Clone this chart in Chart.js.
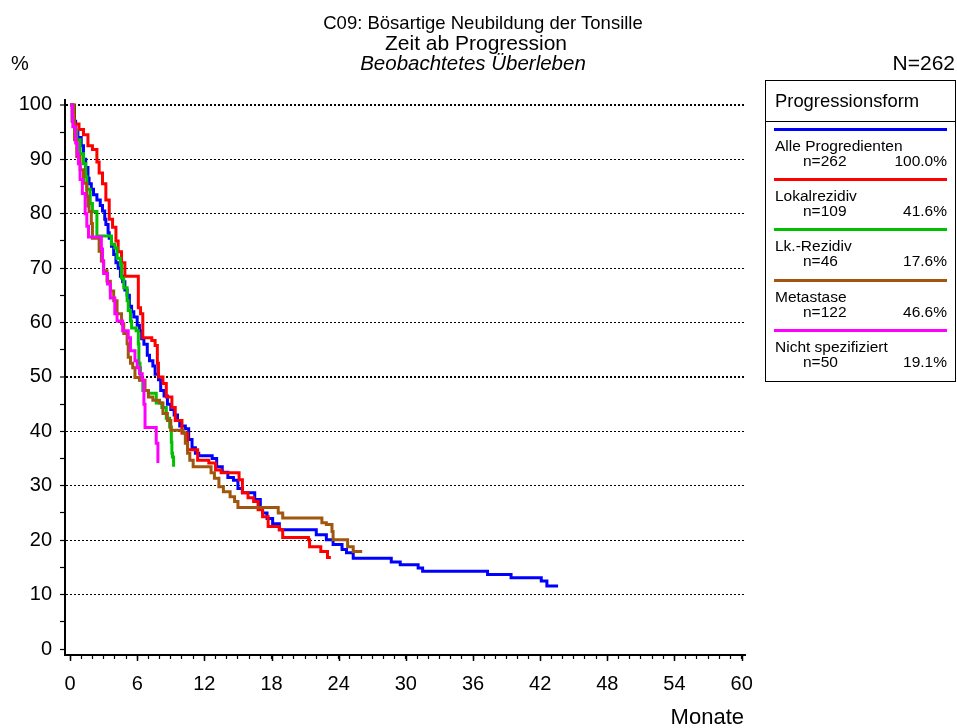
<!DOCTYPE html>
<html>
<head>
<meta charset="utf-8">
<script src="https://cdn.jsdelivr.net/npm/chart.js@4"></script>
<style>
body { margin: 0; background: #fff; }
#wrap { position: relative; width: 957px; height: 728px; font-family: "Liberation Sans", Arial, sans-serif; color: #000; }
#wrap canvas { position: absolute; left: 0; top: 0; }
.t { position: absolute; white-space: nowrap; line-height: 1; }
.c { transform: translateX(-50%); }
.r { transform: translateX(-100%); }
#legend { position: absolute; left: 765px; top: 80px; width: 191px; height: 302px; border: 1.5px solid #000; box-sizing: border-box; }
#legend .sep { position: absolute; left: 0; right: 0; top: 40px; height: 0; border-top: 1.5px solid #000; }
#legend .ln { position: absolute; left: 8px; width: 173px; height: 3px; }
</style>
</head>
<body>
<div id="wrap">
  <canvas id="kmChart" width="957" height="728"></canvas>
  <div class="t c" style="left:483px;top:14px;font-size:18.5px;">C09: Bösartige Neubildung der Tonsille</div>
  <div class="t c" style="left:476px;top:32px;font-size:21px;">Zeit ab Progression</div>
  <div class="t c" style="left:473px;top:53px;font-size:20.5px;font-style:italic;">Beobachtetes Überleben</div>
  <div class="t" style="left:11px;top:53px;font-size:20px;">%</div>
  <div class="t r" style="left:955px;top:52px;font-size:21px;">N=262</div>
  <div class="t r" style="left:744px;top:706px;font-size:22px;">Monate</div>
  <div id="legend"></div>
</div>
<script>
// Beobachtetes Ueberleben (Kaplan-Meier), Monate ab Progression
var alleMonate = [0,0.2,0.5,0.7,1.0,1.2,1.4,1.6,1.7,1.9,2.1,2.4,2.7,2.9,3.1,3.2,3.4,3.5,3.7,3.9,4.1,4.3,4.5,4.7,4.9,5.1,5.3,5.5,5.7,6.0,6.2,6.4,6.6,6.9,7.1,7.4,7.6,7.9,8.1,8.4,8.7,9.0,9.3,9.6,9.8,10.3,10.6,10.9,11.2,11.5,12.7,13.1,13.6,14.1,14.6,15.0,15.4,16.5,17.0,17.2,17.6,18.1,18.7,22.0,22.9,23.5,24.3,24.7,25.3,28.7,29.5,31.1,31.5,37.3,39.4,42.1,42.6,43.6];
var alleProzent = [100,97,95,94,92.5,90,88.5,86.5,85.5,84.5,83.5,82.5,81.5,80.5,79,78,76.5,75.5,74,72.5,71,70,68.5,67.5,66,65,63,62,61,59.5,58.5,57,56,54,53,52,50.5,49.5,47.5,46.5,45,44,43,42,41,40.5,38.5,37,36,35.5,35,33.5,32.5,31.5,31,29.5,28.7,27.5,26,25,24,23,21.9,21,20.1,19.2,18.3,17.7,16.7,16,15.5,14.9,14.3,13.7,13.1,12.5,11.6,11.6];

var lokalMonate = [0,0.4,0.8,1.2,1.6,2.0,2.4,2.6,2.9,3.2,3.5,3.8,4.1,4.3,4.6,4.9,6.1,6.3,6.5,7.3,7.6,7.8,7.9,8.3,8.6,9.1,9.4,10.0,10.5,11.4,12.4,13.0,13.5,15.1,15.4,15.9,16.4,16.8,17.2,17.7,18.7,19.0,21.3,21.4,22.4,23.0,23.3];
var lokalProzent = [100,96.5,95.5,94.5,92.5,91.8,89.5,87.5,85.5,82.5,79,77.5,75,73,71,68.5,62.7,61.6,57.2,56.7,55.8,52.5,50,48.8,46.3,44.4,42,39.7,36.6,34.7,34.2,32.9,32.4,31.1,28.7,27.8,27.1,25.6,24.3,22.5,21.9,20.5,20.1,18.8,17.9,16.8,16.8];

var lkMonate = [0,0.3,0.4,0.6,0.9,1.2,1.4,1.5,1.8,2.0,2.4,3.7,4.0,4.2,4.5,4.6,4.8,5.1,5.2,5.4,5.5,5.9,6.1,6.15,6.25,6.3,6.5,7.0,7.7,8.2,8.6,8.9,9.05,9.1,9.15,9.25];
var lkProzent = [100,97,95.4,93.6,91,89.2,86.8,84.5,81.9,80.4,75.9,74.4,73.7,71.8,70.7,68.2,66.4,64,62.2,60.3,59,58.5,56.1,52.5,51.7,49.4,47.5,47,45.2,44.4,42.4,40.8,38,36,35.3,33.5];

var metaMonate = [0,0.2,0.4,0.6,0.9,1.2,1.5,1.6,1.7,1.9,2.0,2.6,2.8,3.0,3.3,3.6,3.9,4.2,4.6,4.8,5.1,5.2,5.4,5.6,5.8,6.2,6.7,7.0,7.4,8.0,8.3,8.7,9.0,10.1,10.3,10.5,10.7,11.0,12.6,12.9,13.3,13.7,14.3,14.7,15.0,18.6,19.0,22.5,22.9,23.4,23.5,24.8,25.3,26.1];
var metaProzent = [100,97,93.6,90.5,88.1,85.6,83.2,81.4,80.4,78.2,75.5,73.1,71.3,69.5,67.6,65.8,64,61.6,59.8,58,56.1,53.6,52.5,51.7,49.9,49.4,47.5,46.3,45.7,45.2,43.3,42,40.2,39.7,37.8,36,34.7,33.5,32.4,31.4,29.8,28.9,28,27.1,26,25,24.1,23.2,22.9,21.6,20.1,18.8,17.9,17.9];

var nsMonate = [0,0.2,0.25,0.5,0.65,0.75,0.9,1.1,1.35,1.5,1.65,2.8,2.9,3.0,3.35,3.6,4.0,4.2,4.7,5.2,5.4,5.8,6.0,6.2,6.45,6.6,6.7,7.7,7.85];
var nsProzent = [100,97.8,96,93,91,89.2,86.3,83.7,80,77.7,75.7,73.5,71.3,69,67.1,64.5,61.6,60.3,58.5,57.2,54.8,53,51.7,50.6,49.4,45,40.7,37.8,34.2];

var gruppen = ['Alle Progredienten', 'Lokalrezidiv', 'Lk.-Rezidiv', 'Metastase', 'Nicht spezifiziert'];
var fallzahlen = ['n=262', 'n=109', 'n=46', 'n=122', 'n=50'];
var anteile = ['100.0%', '41.6%', '17.6%', '46.6%', '19.1%'];
var farben = ['#0000ff', '#ff0000', '#00c000', '#a0560f', '#ff00ff'];

var xLabels = [0, 6, 12, 18, 24, 30, 36, 42, 48, 54, 60];
var yLabels = [0, 10, 20, 30, 40, 50, 60, 70, 80, 90, 100];

function punkte(monate, prozent) {
    return monate.map(function (m, i) { return {x: m, y: prozent[i]}; });
}

var kurven = [
    punkte(alleMonate, alleProzent),
    punkte(lokalMonate, lokalProzent),
    punkte(lkMonate, lkProzent),
    punkte(metaMonate, metaProzent),
    punkte(nsMonate, nsProzent)
];

// legend box
var legend = document.getElementById('legend');
var html = '<div class="t" style="left:9px;top:11px;font-size:18.4px;">Progressionsform</div><div class="sep"></div>';
gruppen.forEach(function (name, i) {
    var y = 48.5 + i * 50.2;
    html += '<div class="ln" style="top:' + (y - 1.5) + 'px;background:' + farben[i] + ';"></div>';
    html += '<div class="t" style="left:9px;top:' + (y + 8.5) + 'px;font-size:15.5px;">' + name + '</div>';
    html += '<div class="t" style="left:37px;top:' + (y + 23.5) + 'px;font-size:15.5px;">' + fallzahlen[i] + '</div>';
    html += '<div class="t r" style="left:181px;top:' + (y + 23.5) + 'px;font-size:15.5px;">' + anteile[i] + '</div>';
});
legend.innerHTML = html;

// longer ticks at the labelled months
var majorTicks = {
    id: 'majorTicks',
    afterDraw: function (chart) {
        var xs = chart.scales.x, c = chart.ctx;
        c.save();
        c.strokeStyle = '#000';
        c.lineWidth = 1.5;
        xLabels.forEach(function (v) {
            var px = Math.round(xs.getPixelForValue(v)) + 0.5;
            c.beginPath();
            c.moveTo(px, xs.top);
            c.lineTo(px, xs.top + 6);
            c.stroke();
        });
        c.restore();
    }
};

Chart.defaults.font.family = '"Liberation Sans", Arial, sans-serif';
Chart.defaults.color = '#000';

var ctx = document.getElementById('kmChart').getContext('2d');
var chart = new Chart(ctx, {
    type: 'line',
    data: {
        datasets: gruppen.map(function (name, i) {
            return {
                label: name,
                data: kurven[i],
                borderColor: farben[i],
                backgroundColor: farben[i],
                borderWidth: 3,
                pointRadius: 0,
                stepped: 'before',
                fill: false,
                order: 5 - i
            };
        })
    },
    options: {
        responsive: false,
        animation: false,
        layout: { padding: { left: 0, right: 212, top: 100, bottom: 0 } },
        plugins: {
            legend: { display: false },
            tooltip: { enabled: false },
            title: { display: false }
        },
        scales: {
            x: {
                type: 'linear',
                min: -0.45,
                max: 60.3,
                afterBuildTicks: function (s) {
                    var t = [];
                    for (var m = 0; m <= 60; m++) t.push({value: m});
                    s.ticks = t;
                },
                afterFit: function (s) { s.height = 73; },
                ticks: {
                    autoSkip: false,
                    maxRotation: 0,
                    padding: 13,
                    font: { size: 20 },
                    callback: function (v) { return xLabels.indexOf(v) >= 0 ? String(v) : ''; }
                },
                grid: { drawOnChartArea: false, drawTicks: true, tickLength: 4, tickColor: '#000', tickWidth: 1.2 },
                border: { display: true, color: '#000', width: 2 }
            },
            y: {
                type: 'linear',
                min: -1.1,
                max: 100.9,
                afterBuildTicks: function (s) {
                    var t = [];
                    for (var p = 0; p <= 100; p += 5) t.push({value: p});
                    s.ticks = t;
                },
                afterFit: function (s) { s.width = 65; },
                ticks: {
                    padding: 8,
                    font: { size: 20 },
                    callback: function (v) { return yLabels.indexOf(v) >= 0 ? String(v) : ''; }
                },
                grid: {
                    color: function (c) {
                        var v = c.tick ? c.tick.value : -1;
                        return (v > 0 && v % 10 === 0) ? '#000' : 'rgba(0,0,0,0)';
                    },
                    lineWidth: function (c) {
                        var v = c.tick ? c.tick.value : -1;
                        return (v === 50 || v === 100) ? 2 : 1;
                    },
                    tickLength: 5,
                    tickColor: '#000',
                    tickWidth: 1.2,
                    tickBorderDash: []
                },
                border: { display: true, color: '#000', width: 2, dash: [2, 2] }
            }
        }
    },
    plugins: [majorTicks]
});
</script>
</body>
</html>
